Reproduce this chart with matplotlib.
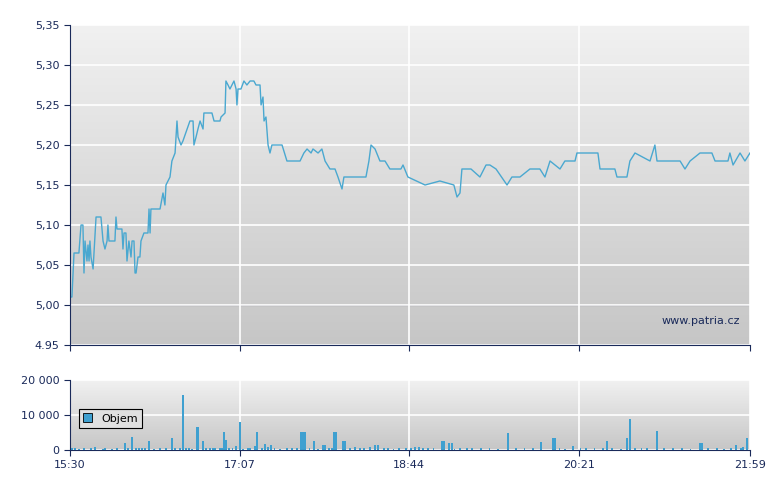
import numpy as np
import matplotlib.pyplot as plt

# minutes since 15:30, price
price_t = [0, 1.1, 2.3, 5.1, 6.3, 7.4, 8, 8.6, 9.7, 10.3, 10.9, 11.4, 12, 13.2, 14.9, 17.7, 18.9, 20, 21.2, 21.7,
           22.3, 25.7, 26.3, 26.9, 29.7, 30.3, 30.9, 32, 32.6, 33.7, 34.9, 35.5, 36.6, 37.2, 37.8, 38.9, 40, 40.6,
           42.3, 44.6, 45.2, 45.8, 46.3, 51.5, 53.2, 54.3, 54.9, 57.2, 58.3, 60.1, 61.2, 61.8, 63.5, 64.6, 68.6,
           70.4, 70.9, 72.1, 73.2, 74.4, 76.1, 76.6, 81.2, 82.4, 85.8, 86.4, 88.7, 89.2, 90.4, 91.5, 93.8, 95,
           95.5, 96.1, 97.8, 99.5, 101.2, 103, 105.2, 106.4, 108.7, 109.3, 110.4, 111, 112.1, 113.3, 114.4, 115.5,
           121.3, 124.1, 131.6, 133.8, 135.6, 137.9, 139, 141.9, 144.1, 145.9, 148.7, 151.6, 153.3, 155.6, 156.7,
           169.3, 171, 172.2, 174.5, 177.3, 180.2, 183, 189.3, 190.5, 193.3, 203.1, 211.6, 219.6, 221.4, 223.1,
           224.2, 229.4, 234.5, 238, 240.2, 243.7, 250, 252.8, 257.4, 263.1, 268.8, 271.7, 274.6, 280.3, 283.1,
           288.9, 290, 302, 303.2, 311.7, 312.9, 318.6, 320.3, 323.2, 331.8, 334.6, 335.8, 349, 351.8, 354.7,
           360.4, 367.2, 369, 376.4, 377.5, 379.3, 383.3, 386.1, 389]
price = [5.01, 5.01, 5.065, 5.065, 5.10, 5.10, 5.04, 5.08, 5.055, 5.075, 5.055, 5.08, 5.06, 5.045, 5.11, 5.11,
         5.08, 5.07, 5.08, 5.10, 5.08, 5.08, 5.11, 5.095, 5.095, 5.07, 5.09, 5.09, 5.055, 5.08, 5.06, 5.08, 5.08,
         5.04, 5.04, 5.06, 5.06, 5.08, 5.09, 5.09, 5.12, 5.09, 5.12, 5.12, 5.14, 5.125, 5.15, 5.16, 5.18, 5.19,
         5.23, 5.21, 5.20, 5.205, 5.23, 5.23, 5.20, 5.21, 5.22, 5.23, 5.22, 5.24, 5.24, 5.23, 5.23, 5.235, 5.24,
         5.28, 5.275, 5.27, 5.28, 5.27, 5.25, 5.27, 5.27, 5.28, 5.275, 5.28, 5.28, 5.275, 5.275, 5.25, 5.26,
         5.23, 5.235, 5.20, 5.19, 5.20, 5.20, 5.18, 5.18, 5.19, 5.195, 5.19, 5.195, 5.19, 5.195, 5.18, 5.17,
         5.17, 5.16, 5.145, 5.16, 5.16, 5.18, 5.20, 5.195, 5.18, 5.18, 5.17, 5.17, 5.175, 5.16, 5.15, 5.155,
         5.15, 5.135, 5.14, 5.17, 5.17, 5.16, 5.175, 5.175, 5.17, 5.15, 5.16, 5.16, 5.17, 5.17, 5.16, 5.18,
         5.17, 5.18, 5.18, 5.19, 5.19, 5.17, 5.17, 5.16, 5.16, 5.18, 5.19, 5.18, 5.20, 5.18, 5.18, 5.17, 5.18,
         5.19, 5.19, 5.18, 5.18, 5.19, 5.175, 5.19, 5.18, 5.19]

vol_t = [1.1, 8, 14.3, 18.9, 26.9, 31.5, 35.5, 37.8, 39.5, 45.2, 51.5, 58.3, 62.9, 64.6, 66.4, 72.6, 73.2, 76.1,
         80, 83, 85.8, 88.1, 89.2, 95, 97.2, 101.8, 105.8, 107, 111.5, 113.3, 115, 132.1, 133.3, 134.4, 139.6,
         144.7, 145.9, 151, 152.2, 156.2, 157.3, 163, 171.6, 174.5, 176.2, 179.6, 181.9, 197.3, 199.6, 212.8,
         213.9, 216.8, 218.5, 250.5, 269.4, 276.3, 277.5, 287.7, 307.2, 318.6, 320.3, 335.8, 360.4, 361.5, 381,
         385, 387.2,
         3, 5, 12, 20, 24, 33, 41, 43, 48, 55, 60, 68, 70, 78, 82, 87, 91, 93, 99, 103, 110, 117, 120, 124, 127,
         130, 137, 142, 148, 150, 160, 166, 168, 185, 188, 192, 195, 202, 205, 208, 220, 223, 227, 230, 235,
         240, 245, 255, 260, 265, 280, 283, 292, 295, 300, 305, 310, 315, 323, 327, 330, 340, 345, 350, 355,
         365, 370, 374, 378, 384]
vol = [500, 600, 800, 400, 600, 2000, 3700, 600, 600, 2600, 700, 3500, 600, 15800, 600, 6500, 6500, 2600,
       500, 500, 500, 5200, 3000, 1200, 8000, 600, 1200, 5200, 1800, 1000, 1300, 5200, 5200, 5200, 2500,
       1400, 1400, 5200, 5200, 2600, 2600, 800, 800, 1300, 1500, 700, 600, 800, 800, 2600,
       2600, 2100, 2100, 5000, 2400, 3500, 3500, 1200, 2500, 3500, 9000, 5500, 2000, 2000, 1300,
       1000, 3500,
       500, 400, 600, 500, 300, 600, 500, 700, 400, 500, 600, 500, 400, 600, 500, 700, 500, 600, 400, 500,
       600, 500, 400, 700, 500, 600, 500, 400, 500, 600, 500, 700, 500, 400, 600, 500, 600, 500, 500, 600,
       400, 500, 700, 500, 600, 500, 400, 600, 500, 500, 600, 400, 500, 700, 500, 600, 500, 400, 600, 500,
       500, 600, 700, 500, 400, 500, 600, 400, 500, 600]

xtick_pos = [0, 97, 194, 291, 389]
xtick_lab = ['15:30', '17:07', '18:44', '20:21', '21:59']
ytick_pos = [4.95, 5.00, 5.05, 5.10, 5.15, 5.20, 5.25, 5.30, 5.35]
ytick_lab = ['4.95', '5,00', '5,05', '5,10', '5,15', '5,20', '5,25', '5,30', '5,35']
vtick_pos = [0, 10000, 20000]
vtick_lab = ['0', '10 000', '20 000']

navy = '#1a2a5a'
blue = '#4aa8d0'
plt.rcParams['font.family'] = 'DejaVu Sans'
plt.rcParams['font.size'] = 8

fig = plt.figure(figsize=(7.8, 4.9), dpi=100)
ax = fig.add_axes([70 / 780, 1 - 345 / 490, 680 / 780, 320 / 490])
axv = fig.add_axes([70 / 780, 1 - 450 / 490, 680 / 780, 70 / 490])

grad = np.linspace(0, 1, 256).reshape(-1, 1)
for a in (ax, axv):
    a.imshow(grad, extent=[0, 1, 0, 1], transform=a.transAxes, aspect='auto',
             cmap=plt.matplotlib.colors.LinearSegmentedColormap.from_list('g', ['#f1f1f1', '#c6c6c6']),
             zorder=0)
    a.set_xlim(0, 389)
    a.set_xticks(xtick_pos)
    a.grid(True, color='white', linewidth=1.2, zorder=1)
    a.set_axisbelow(False)
    for s in ('top', 'right'):
        a.spines[s].set_visible(False)
    for s in ('left', 'bottom'):
        a.spines[s].set_color(navy)
        a.spines[s].set_zorder(5)
    a.tick_params(direction='out', length=4, color=navy, labelcolor=navy)

ax.plot(price_t, price, color=blue, linewidth=1, zorder=3)
ax.axhline(5.0, color='#555566', linewidth=0.8, zorder=2)
ax.set_ylim(4.95, 5.35)
ax.set_yticks(ytick_pos)
ax.set_yticklabels(ytick_lab)
ax.set_xticklabels([])
ax.text(0.985, 0.06, 'www.patria.cz', transform=ax.transAxes, ha='right', va='bottom',
        color=navy, fontsize=8, zorder=4)

axv.bar(vol_t, vol, width=1.0, color='#3fa0d0', zorder=3)
axv.set_ylim(0, 20000)
axv.set_yticks(vtick_pos)
axv.set_yticklabels(vtick_lab)
axv.set_xticklabels(xtick_lab)
leg = axv.legend(['Objem'], loc='center left', bbox_to_anchor=(0.005, 0.45), fancybox=False,
                 framealpha=1, edgecolor='black', facecolor='#e0e0e0', handlelength=0.8,
                 handleheight=0.8, fontsize=8)
leg.get_frame().set_linewidth(0.8)
for h in leg.legend_handles:
    h.set_edgecolor('black')
    h.set_linewidth(0.6)

fig.savefig('out.png', dpi=100)
